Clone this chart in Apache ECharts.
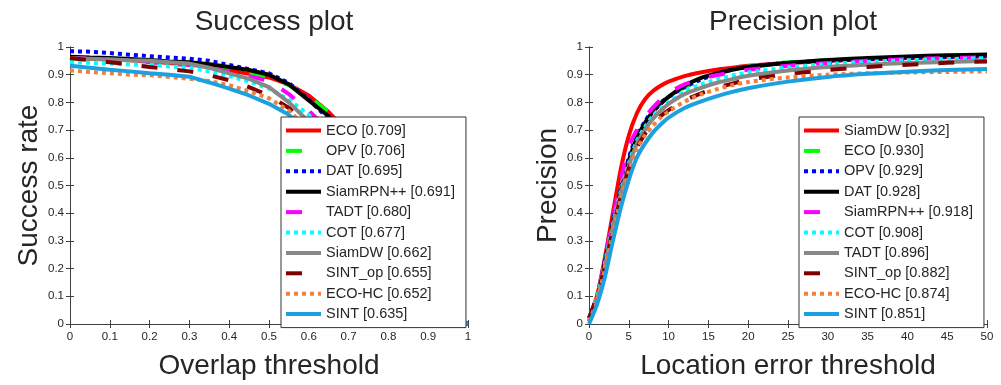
<!DOCTYPE html>
<html>
<head>
<meta charset="utf-8">
<script src="https://cdn.jsdelivr.net/npm/echarts@6/dist/echarts.min.js"></script>
<style>
  html, body { margin: 0; padding: 0; background: #fff; }
  #chart { width: 1001px; height: 385px; }
</style>
</head>
<body>
<div id="chart"></div>
<script>
// overlap thresholds (success plot)
const overlapX = [0, 0.05, 0.1, 0.15, 0.2, 0.25, 0.3, 0.35, 0.4, 0.45, 0.5, 0.55, 0.6, 0.65, 0.7, 0.75, 0.8, 0.85, 0.9, 0.95, 1];
// location error thresholds (precision plot)
const errorX = [0, 1, 2, 3, 4, 5, 6, 7, 8, 9, 10, 12, 14, 16, 18, 20, 25, 30, 35, 40, 45, 50];

const successNames = ['ECO [0.709]', 'OPV [0.706]', 'DAT [0.695]', 'SiamRPN++ [0.691]', 'TADT [0.680]',
  'COT [0.677]', 'SiamDW [0.662]', 'SINT_op [0.655]', 'ECO-HC [0.652]', 'SINT [0.635]'];
const precisionNames = ['SiamDW [0.932]', 'ECO [0.930]', 'OPV [0.929]', 'DAT [0.928]', 'SiamRPN++ [0.918]',
  'COT [0.908]', 'TADT [0.896]', 'SINT_op [0.882]', 'ECO-HC [0.874]', 'SINT [0.851]'];

// success rate curves
const sucECO      = [0.96, 0.958, 0.955, 0.952, 0.948, 0.942, 0.937, 0.928, 0.915, 0.903, 0.89, 0.865, 0.825, 0.765, 0.69, 0.57, 0.42, 0.27, 0.11, 0.03, 0];
const sucOPV      = [0.958, 0.956, 0.953, 0.95, 0.946, 0.94, 0.935, 0.927, 0.915, 0.902, 0.888, 0.862, 0.82, 0.765, 0.685, 0.565, 0.415, 0.265, 0.11, 0.03, 0];
const sucDAT      = [0.985, 0.983, 0.978, 0.972, 0.967, 0.962, 0.958, 0.95, 0.935, 0.92, 0.905, 0.87, 0.81, 0.74, 0.65, 0.52, 0.37, 0.22, 0.09, 0.025, 0];
const sucSiamRPN  = [0.965, 0.962, 0.96, 0.957, 0.953, 0.948, 0.945, 0.938, 0.928, 0.917, 0.9, 0.865, 0.807, 0.75, 0.66, 0.53, 0.38, 0.23, 0.09, 0.025, 0];
const sucTADT     = [0.96, 0.958, 0.955, 0.95, 0.945, 0.94, 0.935, 0.925, 0.91, 0.895, 0.878, 0.83, 0.77, 0.7, 0.62, 0.5, 0.36, 0.22, 0.09, 0.02, 0];
const sucCOT      = [0.945, 0.943, 0.94, 0.937, 0.935, 0.93, 0.925, 0.912, 0.895, 0.875, 0.85, 0.81, 0.755, 0.68, 0.6, 0.49, 0.35, 0.21, 0.08, 0.02, 0];
const sucSiamDW   = [0.96, 0.958, 0.955, 0.952, 0.95, 0.945, 0.94, 0.925, 0.905, 0.885, 0.855, 0.8, 0.73, 0.65, 0.56, 0.45, 0.33, 0.2, 0.08, 0.02, 0];
const sucSINTop   = [0.96, 0.952, 0.945, 0.937, 0.928, 0.92, 0.912, 0.898, 0.88, 0.855, 0.825, 0.78, 0.71, 0.63, 0.54, 0.44, 0.32, 0.2, 0.08, 0.02, 0];
const sucECOHC    = [0.915, 0.91, 0.905, 0.9, 0.898, 0.892, 0.885, 0.877, 0.862, 0.84, 0.815, 0.77, 0.7, 0.62, 0.53, 0.43, 0.32, 0.2, 0.08, 0.02, 0];
const sucSINT     = [0.932, 0.925, 0.918, 0.912, 0.905, 0.9, 0.893, 0.872, 0.85, 0.825, 0.795, 0.755, 0.69, 0.6, 0.5, 0.39, 0.27, 0.15, 0.06, 0.015, 0];

// precision curves
const preSiamDW   = [0.02, 0.1, 0.24, 0.4, 0.56, 0.68, 0.76, 0.81, 0.84, 0.86, 0.875, 0.895, 0.908, 0.918, 0.925, 0.932, 0.942, 0.95, 0.955, 0.96, 0.964, 0.967];
const preECO      = [0.02, 0.1, 0.23, 0.37, 0.5, 0.6, 0.68, 0.73, 0.77, 0.8, 0.82, 0.855, 0.88, 0.9, 0.918, 0.93, 0.945, 0.952, 0.958, 0.962, 0.965, 0.968];
const preOPV      = [0.02, 0.1, 0.23, 0.37, 0.49, 0.6, 0.68, 0.73, 0.77, 0.8, 0.82, 0.855, 0.882, 0.902, 0.918, 0.929, 0.943, 0.95, 0.956, 0.96, 0.963, 0.966];
const preDAT      = [0.01, 0.09, 0.22, 0.36, 0.48, 0.59, 0.67, 0.725, 0.765, 0.795, 0.82, 0.86, 0.888, 0.905, 0.918, 0.928, 0.942, 0.953, 0.96, 0.966, 0.97, 0.973];
const preSiamRPN  = [0.02, 0.1, 0.23, 0.38, 0.52, 0.64, 0.7, 0.745, 0.78, 0.81, 0.835, 0.865, 0.885, 0.898, 0.909, 0.918, 0.932, 0.942, 0.95, 0.956, 0.96, 0.963];
const preCOT      = [0.02, 0.1, 0.22, 0.36, 0.48, 0.58, 0.66, 0.71, 0.75, 0.78, 0.8, 0.838, 0.864, 0.882, 0.897, 0.908, 0.926, 0.938, 0.946, 0.952, 0.956, 0.96];
const preTADT     = [0.01, 0.09, 0.21, 0.35, 0.47, 0.57, 0.65, 0.7, 0.74, 0.77, 0.795, 0.83, 0.852, 0.87, 0.884, 0.896, 0.915, 0.928, 0.936, 0.942, 0.946, 0.95];
const preSINTop   = [0.02, 0.1, 0.21, 0.34, 0.46, 0.56, 0.635, 0.685, 0.72, 0.75, 0.772, 0.807, 0.832, 0.852, 0.868, 0.882, 0.902, 0.917, 0.928, 0.936, 0.943, 0.948];
const preECOHC    = [0.01, 0.08, 0.2, 0.33, 0.45, 0.55, 0.63, 0.68, 0.715, 0.745, 0.767, 0.803, 0.828, 0.847, 0.862, 0.874, 0.89, 0.9, 0.905, 0.908, 0.91, 0.912];
const preSINT     = [0, 0.07, 0.17, 0.3, 0.42, 0.52, 0.6, 0.65, 0.69, 0.72, 0.745, 0.78, 0.803, 0.822, 0.838, 0.851, 0.875, 0.892, 0.903, 0.911, 0.917, 0.921];

const successData = [sucECO, sucOPV, sucDAT, sucSiamRPN, sucTADT, sucCOT, sucSiamDW, sucSINTop, sucECOHC, sucSINT];
const precisionData = [preSiamDW, preECO, preOPV, preDAT, preSiamRPN, preCOT, preTADT, preSINTop, preECOHC, preSINT];

// style per rank (matlab-ish)
const rankColors = ['#ff0000', '#00ff00', '#0000ff', '#000000', '#ff00ff', '#00ffff', '#888888', '#800000', '#f0803c', '#1ca0e0'];
const DASH = [16, 20];
const DOT = [4, 4];
const rankDash = ['solid', DASH, DOT, 'solid', DASH, DOT, 'solid', DASH, DOT, 'solid'];

const FONT = 'Liberation Sans, Arial, Helvetica, sans-serif';
const TXT = '#262626';
const AX = '#404040';

const chart = echarts.init(document.getElementById('chart'));

function makeSeries(names, data, xs, axisIdx) {
  return names.map((name, i) => ({
    name: name,
    type: 'line',
    xAxisIndex: axisIdx,
    yAxisIndex: axisIdx,
    data: xs.map((x, k) => [x, data[i][k]]),
    symbol: 'none',
    smooth: axisIdx === 2 ? 0.25 : false,
    animation: false,
    lineStyle: { color: rankColors[i], width: 4, type: rankDash[i], cap: 'butt' },
    itemStyle: { color: rankColors[i], opacity: 0 }
  }));
}

// main axes + mirror axes (top/right ticks like a matlab box)
function mainX(gi, max, interval, name) {
  return {
    gridIndex: gi, type: 'value', min: 0, max: max, interval: interval,
    name: name, nameLocation: 'middle', nameGap: 28,
    nameTextStyle: { fontFamily: FONT, fontSize: 28, color: TXT },
    axisLine: { show: true, lineStyle: { color: AX, width: 1 } },
    axisTick: { show: true, inside: true, length: 4, lineStyle: { color: AX } },
    axisLabel: { fontFamily: FONT, fontSize: 11.5, color: TXT, margin: 7 },
    splitLine: { show: false }
  };
}
function mainY(gi, name) {
  return {
    gridIndex: gi, type: 'value', min: 0, max: 1, interval: 0.1,
    name: name, nameLocation: 'middle', nameGap: 27,
    nameTextStyle: { fontFamily: FONT, fontSize: 28, color: TXT },
    axisLine: { show: true, lineStyle: { color: AX, width: 1 } },
    axisTick: { show: true, inside: true, length: 4, lineStyle: { color: AX } },
    axisLabel: { fontFamily: FONT, fontSize: 11.5, color: TXT, margin: 6 },
    splitLine: { show: false }
  };
}
function mirror(gi, pos, max, interval) {
  return {
    gridIndex: gi, type: 'value', position: pos, min: 0, max: max, interval: interval,
    axisLine: { show: true, lineStyle: { color: AX, width: 1 } },
    axisTick: { show: true, inside: true, length: 4, lineStyle: { color: AX } },
    axisLabel: { show: false },
    splitLine: { show: false }
  };
}

function makeLegend(names, left) {
  return {
    data: names,
    orient: 'vertical',
    left: left,
    top: 117,
    padding: [6, 11, 6, 3],
    itemWidth: 35,
    itemHeight: 14,
    itemGap: 5.4,
    selectedMode: false,
    backgroundColor: '#fff',
    borderColor: '#333',
    borderWidth: 1,
    borderRadius: 0,
    itemStyle: { opacity: 0 },
    lineStyle: { width: 4, cap: 'butt' },
    textStyle: { fontFamily: FONT, fontSize: 14.5, color: TXT, lineHeight: 14 }
  };
}

const option = {
  backgroundColor: '#fff',
  animation: false,
  title: [
    { text: 'Success plot', left: 269, top: 3, textAlign: 'center',
      textStyle: { fontFamily: FONT, fontSize: 28, fontWeight: 'normal', color: TXT } },
    { text: 'Precision plot', left: 788, top: 3, textAlign: 'center',
      textStyle: { fontFamily: FONT, fontSize: 28, fontWeight: 'normal', color: TXT } }
  ],
  grid: [
    { left: 70, top: 47, width: 398, height: 279 },
    { left: 589, top: 47, width: 398, height: 279 }
  ],
  xAxis: [
    mainX(0, 1, 0.1, 'Overlap threshold'),
    mirror(0, 'top', 1, 0.1),
    mainX(1, 50, 5, 'Location error threshold'),
    mirror(1, 'top', 50, 5)
  ],
  yAxis: [
    mainY(0, 'Success rate'),
    mirror(0, 'right', 1, 0.1),
    mainY(1, 'Precision'),
    mirror(1, 'right', 1, 0.1)
  ],
  legend: [makeLegend(successNames, 281), makeLegend(precisionNames, 799)],
  series: [
    ...makeSeries(successNames, successData, overlapX, 0),
    ...makeSeries(precisionNames, precisionData, errorX, 2)
  ]
};

chart.setOption(option);
</script>
</body>
</html>
